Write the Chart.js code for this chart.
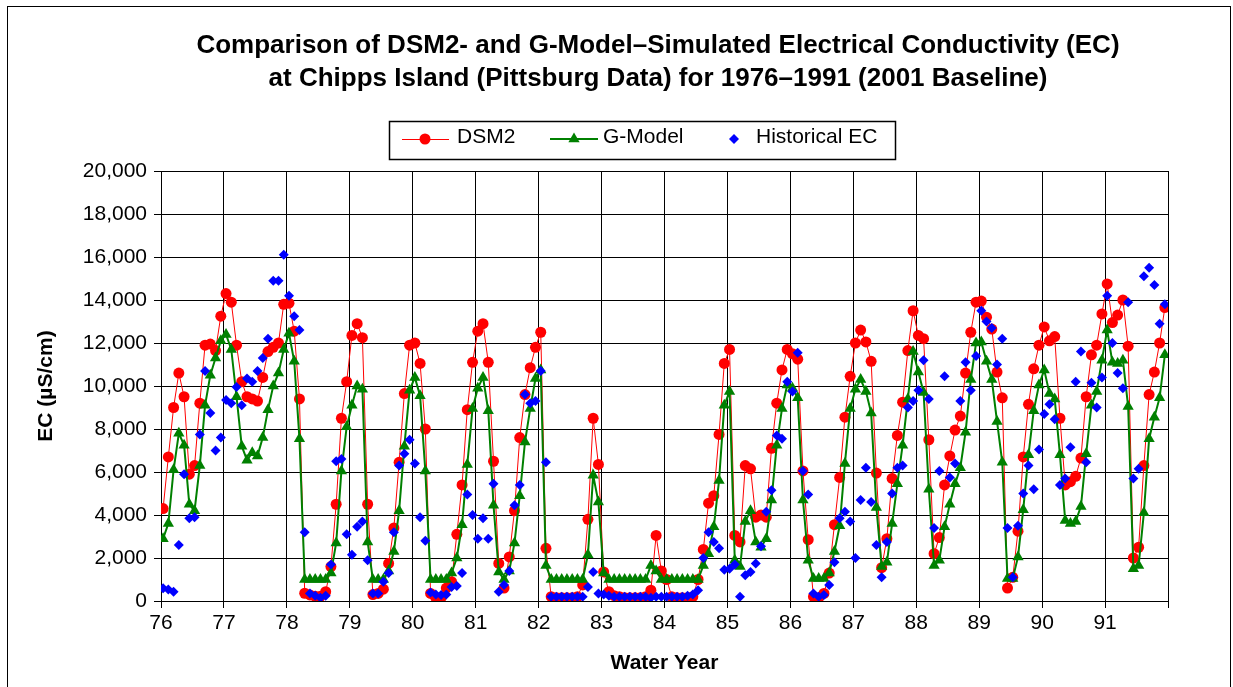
<!DOCTYPE html>
<html>
<head>
<meta charset="utf-8">
<script src="https://cdn.jsdelivr.net/npm/chart.js@4/dist/chart.umd.min.js"></script>
<style>
  body { margin: 0; background: #fff; }
  #wrap { width: 1233px; height: 687px; }
</style>
</head>
<body>
<div id="wrap"><canvas id="ec" width="1233" height="687"></canvas></div>
<script>
// water years on the x axis, one value per month (Oct..Sep)
const waterYears = [76, 77, 78, 79, 80, 81, 82, 83, 84, 85, 86, 87, 88, 89, 90, 91];

const dsm2 = [
    4300, 6700, 9000, 10600, 9500, 5900, 6300, 9200, 11900, 11950, 11650, 13250,
    14300, 13900, 11900, 10200, 9500, 9400, 9300, 10400, 11600, 11800, 12000, 13800,
    13850, 12550, 9400, 360, 280, 220, 220, 430, 1600, 4500, 8500, 10200,
    12350, 12900, 12250, 4500, 300, 350, 550, 1750, 3400, 6450, 9650, 11900,
    12000, 11050, 8000, 350, 150, 150, 600, 900, 3100, 5400, 8900, 11100,
    12550, 12900, 11100, 6500, 1750, 600, 2050, 4200, 7600, 9600, 10850, 11800,
    12500, 2450, 200, 150, 150, 150, 150, 200, 750, 3800, 8500, 6350,
    1350, 430, 250, 200, 150, 150, 150, 150, 200, 500, 3050, 1400,
    1000, 200, 150, 150, 150, 200, 1000, 2400, 4550, 4900, 7750, 11050,
    11700, 3050, 2750, 6300, 6150, 3900, 4000, 3900, 7100, 9200, 10750, 11700,
    11500, 11250, 6050, 2850, 200, 150, 350, 1300, 3550, 5750, 8550, 10450,
    12000, 12600, 12050, 11150, 5950, 1550, 2900, 5700, 7700, 9250, 11650, 13500,
    12350, 12200, 7500, 2200, 2950, 5400, 6750, 7950, 8600, 10600, 12500, 13900,
    13950, 13200, 12650, 10650, 9450, 600, 1100, 3250, 6700, 9150, 10800, 11900,
    12750, 12100, 12300, 8500, 5400, 5550, 5800, 6650, 9500, 11450, 11900, 13350,
    14750, 12950, 13300, 14000, 11850, 2000, 2500, 6300, 9600, 10650, 12000, 13650
];

const gModel = [
    2900, 3600, 6100, 7800, 7250, 4500, 4200, 6300, 9100, 10500, 11300, 12100,
    12400, 11700, 9500, 7200, 6550, 6900, 6750, 7600, 8900, 10000, 10600, 11700,
    12450, 11150, 7550, 1000, 1000, 1000, 1000, 1000, 1300, 2700, 6050, 8100,
    9100, 10000, 9850, 2750, 1000, 1000, 1000, 1400, 2300, 4200, 7200, 9800,
    10400, 9550, 6050, 1000, 1000, 1000, 1000, 1300, 2000, 3550, 6350, 8950,
    9900, 10400, 8850, 4450, 1350, 1000, 1400, 2700, 4900, 7400, 8950, 10350,
    10750, 1650, 1000, 1000, 1000, 1000, 1000, 1000, 1000, 2150, 5850, 4600,
    1300, 1000, 1000, 1000, 1000, 1000, 1000, 1000, 1000, 1650, 1400, 1000,
    1000, 1000, 1000, 1000, 1000, 1000, 1000, 1650, 2200, 3450, 5600, 9100,
    9750, 1900, 1600, 3700, 4200, 2750, 2500, 2900, 4700, 7250, 8950, 10050,
    9900, 9450, 4700, 1900, 1050, 1050, 1050, 1300, 2300, 3500, 6400, 8950,
    9850, 10300, 9750, 8750, 4350, 1600, 1800, 3600, 5450, 7250, 9400, 11600,
    10650, 9700, 5200, 1650, 1900, 3450, 4500, 5450, 6200, 7850, 10300, 12000,
    12050, 11150, 10300, 8350, 6450, 1050, 1050, 2050, 4250, 6800, 8850, 10050,
    10750, 9650, 9400, 6800, 3750, 3600, 3700, 4400, 6850, 9100, 9750, 11200,
    12600, 11100, 11050, 11200, 9050, 1500, 1650, 4100, 7550, 8550, 9450, 11450
];

const historicalEC = [
    590, 540, 430, 2600, 5900, 3850, 3900, 7750, 10700, 8750, 7000, 7600,
    9350, 9200, 9950, 9100, 10350, 10200, 10700, 11300, 12200, 14900, 14900, 16100,
    14200, 13250, 12600, 3200, 350, 250, 150, 250, 1700, 6500, 6600, 3100,
    2150, 3450, 3700, 1900, 350, 350, 900, 1300, 3200, 6300, 6850, 7500,
    6400, 3900, 2800, 400, 300, 280, 300, 650, 700, 1300, 4950, 4000,
    2900, 3850, 2900, 5450, 430, 750, 1400, 4450, 5400, 9600, 9200, 9300,
    10700, 6450, 200, 200, 200, 200, 200, 200, 200, 650, 1350, 350,
    300, 250, 200, 200, 200, 200, 200, 200, 200, 150, 200, 200,
    200, 200, 200, 200, 250, 300, 500, 2000, 3200, 2750, 2450, 1450,
    1500, 1700, 200, 1200, 1350, 1750, 2550, 4150, 5150, 7700, 7550, 10200,
    9750, 11550, 6050, 4950, 350, 200, 280, 750, 1800, 3850, 4150, 3700,
    2000, 4700, 6200, 4600, 2600, 1100, 2750, 5000, 6200, 6300, 9000, 9300,
    9800, 11200, 9400, 3400, 6050, 10450, 5750, 6400, 9300, 11100, 9800, 11400,
    13500, 13000, 12700, 11000, 12200, 3400, 1100, 3500, 5000, 6300, 5200, 7050,
    8700, 9150, 8450, 5400, 5700, 7150, 10200, 11600, 6450, 10150, 9000, 10400,
    14200, 12000, 10600, 9900, 13900, 5700, 6150, 15100, 15500, 14700, 12900, 13800
];

const seriesNames = ['DSM2', 'G-Model', 'Historical EC'];
const yMax = 20000;
const yStep = 2000;

const FONT = '"Liberation Sans", Arial, Helvetica, sans-serif';

// monthly value -> {x: water year + month fraction, y}
function toPoints(values) {
    return values.map(function (v, i) {
        let yr = waterYears[Math.floor(i / 12)];
        return { x: yr + ((i % 12) + 0.4) / 12, y: v };
    });
}

function withCommas(v) {
    return String(v).replace(/\B(?=(\d{3})+(?!\d))/g, ',');
}

function marker(ctx, style, x, y, r, color) {
    ctx.save();
    ctx.fillStyle = color;
    ctx.beginPath();
    if (style === 'circle') {
        ctx.arc(x, y, r, 0, Math.PI * 2);
    } else if (style === 'triangle') {
        ctx.moveTo(x, y - r);
        ctx.lineTo(x + r * 0.866, y + r * 0.5);
        ctx.lineTo(x - r * 0.866, y + r * 0.5);
    } else {
        ctx.moveTo(x - r, y);
        ctx.lineTo(x, y - r);
        ctx.lineTo(x + r, y);
        ctx.lineTo(x, y + r);
    }
    ctx.closePath();
    ctx.fill();
    ctx.restore();
}

// frame, title and boxed legend drawn around the chart area
const decorations = {
    id: 'decorations',
    afterDraw(chart) {
        const ctx = chart.ctx;
        ctx.save();
        ctx.strokeStyle = '#000';
        ctx.lineWidth = 1;
        ctx.strokeRect(7.5, 6.5, 1223, 700);

        ctx.fillStyle = '#000';
        ctx.textAlign = 'center';
        ctx.textBaseline = 'alphabetic';
        ctx.font = 'bold 26px ' + FONT;
        ctx.fillText('Comparison of DSM2- and G-Model\u2013Simulated Electrical Conductivity (EC)', 658, 53);
        ctx.fillText('at Chipps Island (Pittsburg Data) for 1976\u20131991 (2001 Baseline)', 658, 86);

        // legend
        ctx.lineWidth = 1.5;
        ctx.strokeRect(389.5, 121.5, 506, 38);
        const ly = 139;
        ctx.font = '21px ' + FONT;
        ctx.textAlign = 'left';
        ctx.textBaseline = 'middle';

        ctx.strokeStyle = '#ff0000';
        ctx.lineWidth = 1;
        ctx.beginPath(); ctx.moveTo(402, ly + 0.5); ctx.lineTo(449, ly + 0.5); ctx.stroke();
        marker(ctx, 'circle', 425, ly, 5.5, '#ff0000');
        ctx.fillText(seriesNames[0], 457, 137);

        ctx.strokeStyle = '#008000';
        ctx.lineWidth = 2;
        ctx.beginPath(); ctx.moveTo(550, ly); ctx.lineTo(598, ly); ctx.stroke();
        marker(ctx, 'triangle', 574, ly, 6.5, '#008000');
        ctx.fillStyle = '#000';
        ctx.fillText(seriesNames[1], 603, 137);

        marker(ctx, 'diamond', 734, ly, 5, '#0000ff');
        ctx.fillStyle = '#000';
        ctx.fillText(seriesNames[2], 756, 137);
        ctx.restore();
    }
};

const tickFont = { family: FONT, size: 21 };
const titleFont = { family: FONT, size: 21, weight: 'bold' };

new Chart(document.getElementById('ec').getContext('2d'), {
    type: 'line',
    data: {
        datasets: [
            {
                label: seriesNames[0],
                data: toPoints(dsm2),
                borderColor: '#ff0000',
                backgroundColor: '#ff0000',
                borderWidth: 1,
                pointStyle: 'circle',
                pointRadius: 5.5,
                pointBorderWidth: 0,
                fill: false,
                order: 2,
            },
            {
                label: seriesNames[1],
                data: toPoints(gModel),
                borderColor: '#008000',
                backgroundColor: '#008000',
                borderWidth: 2,
                pointStyle: 'triangle',
                pointRadius: 6.5,
                pointBorderWidth: 0,
                fill: false,
                order: 1,
            },
            {
                label: seriesNames[2],
                data: toPoints(historicalEC),
                borderColor: '#0000ff',
                backgroundColor: '#0000ff',
                showLine: false,
                pointStyle: 'rectRot',
                pointRadius: 5,
                pointBorderWidth: 0,
                order: 0,
            },
        ],
    },
    options: {
        responsive: false,
        animation: false,
        devicePixelRatio: 1,
        layout: { padding: { top: 171, right: 65, bottom: 0, left: 0 } },
        plugins: {
            legend: { display: false },
            tooltip: { enabled: false },
        },
        scales: {
            x: {
                type: 'linear',
                min: waterYears[0],
                max: waterYears[waterYears.length - 1] + 1,
                afterFit: function (scale) { scale.height = 86; },
                ticks: {
                    stepSize: 1,
                    autoSkip: false,
                    maxRotation: 0,
                    color: '#000',
                    font: tickFont,
                    padding: 3,
                    callback: function (v) { return waterYears.includes(v) ? String(v) : ''; },
                },
                grid: { color: '#000', lineWidth: 1, tickLength: 7 },
                border: { color: '#000', width: 1 },
                title: { display: true, text: 'Water Year', color: '#000', font: titleFont, padding: { top: 0, bottom: 11 } },
            },
            y: {
                min: 0,
                max: yMax,
                afterFit: function (scale) { scale.width = 161; },
                ticks: {
                    stepSize: yStep,
                    color: '#000',
                    font: tickFont,
                    padding: 7,
                    callback: function (v) { return withCommas(v); },
                },
                grid: { color: '#000', lineWidth: 1, tickLength: 7 },
                border: { color: '#000', width: 1 },
                title: { display: true, text: 'EC (\u00b5S/cm)', color: '#000', font: titleFont, padding: { top: 34, bottom: 0 } },
            },
        },
    },
    plugins: [decorations],
});
</script>
</body>
</html>
